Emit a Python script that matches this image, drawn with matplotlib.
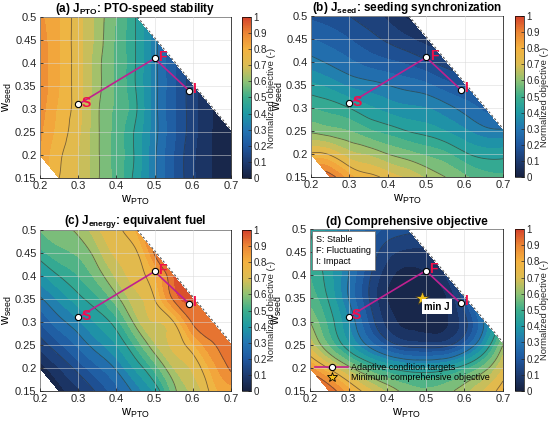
import numpy as np
import matplotlib
matplotlib.use("Agg")
import matplotlib.pyplot as plt
import matplotlib.tri as mtri
from matplotlib.colors import LinearSegmentedColormap, Normalize
from matplotlib.cm import ScalarMappable
from matplotlib.lines import Line2D

plt.rcParams['font.family'] = ['Liberation Sans', 'DejaVu Sans']
plt.rcParams['mathtext.fontset'] = 'custom'
plt.rcParams['mathtext.rm'] = 'Liberation Sans'
plt.rcParams['mathtext.bf'] = 'Liberation Sans:bold'
plt.rcParams['mathtext.it'] = 'Liberation Sans:italic'

nan = np.nan

# grid of weights (columns = w_PTO, rows = w_seed)
w_pto_grid = [0.20, 0.25, 0.30, 0.35, 0.40, 0.45, 0.50, 0.55, 0.60, 0.65, 0.70]
w_seed_grid = [0.15, 0.20, 0.25, 0.30, 0.35, 0.40, 0.45, 0.50]

# normalized objectives (nan = infeasible weights)
J_pto = [
    [nan, 0.75, 0.70, 0.61, 0.53, 0.43, 0.31, 0.20, 0.11, 0.05, 0.02],
    [0.85, 0.76, 0.70, 0.61, 0.53, 0.44, 0.31, 0.20, 0.11, 0.05, 0.02],
    [0.86, 0.78, 0.71, 0.61, 0.53, 0.44, 0.32, 0.21, 0.12, 0.05, 0.02],
    [0.88, 0.79, 0.72, 0.61, 0.54, 0.46, 0.32, 0.21, 0.12, 0.05, nan],
    [0.89, 0.80, 0.72, 0.62, 0.54, 0.45, 0.32, 0.21, 0.12, nan, nan],
    [0.89, 0.80, 0.72, 0.62, 0.54, 0.45, 0.32, 0.21, nan, nan, nan],
    [0.88, 0.80, 0.72, 0.63, 0.54, 0.45, 0.32, nan, nan, nan, nan],
    [0.86, 0.80, 0.72, 0.63, 0.55, 0.45, nan, nan, nan, nan, nan],
]
J_seed = [
    [nan, 0.93, 0.82, 0.77, 0.73, 0.69, 0.64, 0.60, 0.56, 0.52, 0.51],
    [0.76, 0.74, 0.67, 0.64, 0.60, 0.57, 0.54, 0.51, 0.46, 0.43, 0.43],
    [0.59, 0.57, 0.55, 0.51, 0.48, 0.45, 0.43, 0.40, 0.36, 0.32, 0.31],
    [0.50, 0.48, 0.45, 0.41, 0.38, 0.36, 0.35, 0.32, 0.28, 0.24, nan],
    [0.41, 0.38, 0.34, 0.32, 0.30, 0.28, 0.26, 0.22, 0.19, nan, nan],
    [0.32, 0.29, 0.26, 0.23, 0.21, 0.19, 0.16, 0.13, nan, nan, nan],
    [0.25, 0.23, 0.20, 0.17, 0.14, 0.11, 0.08, nan, nan, nan, nan],
    [0.19, 0.17, 0.15, 0.12, 0.09, 0.04, nan, nan, nan, nan, nan],
]
J_energy = [
    [nan, 0.03, 0.09, 0.16, 0.23, 0.32, 0.41, 0.58, 0.66, 0.77, 0.82],
    [0.02, 0.10, 0.17, 0.24, 0.31, 0.41, 0.52, 0.65, 0.71, 0.82, 0.91],
    [0.12, 0.19, 0.26, 0.33, 0.40, 0.51, 0.64, 0.71, 0.79, 0.89, 0.93],
    [0.20, 0.28, 0.34, 0.41, 0.48, 0.62, 0.70, 0.75, 0.91, 0.93, nan],
    [0.29, 0.36, 0.43, 0.49, 0.58, 0.68, 0.75, 0.91, 0.95, nan, nan],
    [0.38, 0.45, 0.50, 0.57, 0.66, 0.72, 0.80, 0.95, nan, nan, nan],
    [0.48, 0.53, 0.56, 0.63, 0.71, 0.74, 0.91, nan, nan, nan, nan],
    [0.55, 0.59, 0.61, 0.69, 0.74, 0.80, nan, nan, nan, nan, nan],
]
J_comp = [
    [nan, 0.95, 0.82, 0.72, 0.64, 0.58, 0.56, 0.58, 0.63, 0.70, 0.78],
    [0.86, 0.74, 0.62, 0.52, 0.45, 0.41, 0.40, 0.42, 0.48, 0.57, 0.70],
    [0.68, 0.54, 0.41, 0.29, 0.19, 0.13, 0.12, 0.13, 0.22, 0.38, 0.60],
    [0.60, 0.48, 0.35, 0.20, 0.08, 0.04, 0.03, 0.04, 0.13, 0.30, nan],
    [0.53, 0.44, 0.30, 0.16, 0.05, 0.02, 0.01, 0.04, 0.19, nan, nan],
    [0.50, 0.42, 0.30, 0.17, 0.07, 0.03, 0.04, 0.10, nan, nan, nan],
    [0.47, 0.40, 0.30, 0.20, 0.12, 0.09, 0.09, nan, nan, nan, nan],
    [0.45, 0.38, 0.30, 0.24, 0.19, 0.17, nan, nan, nan, nan, nan],
]

# adaptive condition targets
cond_names = ['S', 'F', 'I']
cond_pto = [0.30, 0.50, 0.59]
cond_seed = [0.31, 0.41, 0.34]
min_pto, min_seed = 0.49, 0.35
w_sum_max = 0.955

titles = [r'(a) $\mathbf{J}_{\mathbf{PTO}}$: PTO-speed stability',
          r'(b) $\mathbf{J}_{\mathbf{seed}}$: seeding synchronization',
          r'(c) $\mathbf{J}_{\mathbf{energy}}$: equivalent fuel',
          '(d) Comprehensive objective']
fields = [J_pto, J_seed, J_energy, J_comp]

cmap = LinearSegmentedColormap.from_list('obj', [
    (0.00, '#17213f'), (0.10, '#1d3b70'), (0.20, '#1f58a0'), (0.30, '#2376b2'),
    (0.40, '#1e9aa4'), (0.50, '#3cae8c'), (0.60, '#8ec274'), (0.70, '#dcbd52'),
    (0.80, '#f4b23f'), (0.90, '#ec8634'), (1.00, '#d4412a')])

path_color = '#c0208f'
label_color = '#f0104a'

fig = plt.figure(figsize=(5.5, 4.24), dpi=100)
ax_pos = [[0.0727, 0.5802, 0.3473, 0.3797], [0.5655, 0.5825, 0.3491, 0.3797],
          [0.0727, 0.0778, 0.3473, 0.3797], [0.5636, 0.0778, 0.3509, 0.3820]]
cb_left = [0.4400, 0.9370, 0.4400, 0.9370]

# build a triangulation of the feasible grid nodes
gx, gy = np.meshgrid(w_pto_grid, w_seed_grid)
nx, ny = len(w_pto_grid), len(w_seed_grid)
feas = ~np.isnan(np.array(J_pto))
idx = np.arange(nx * ny).reshape(ny, nx)
tris = []
for j in range(ny - 1):
    for i in range(nx - 1):
        ll, lr, ul, ur = idx[j, i], idx[j, i + 1], idx[j + 1, i], idx[j + 1, i + 1]
        for t in [(ll, lr, ul), (lr, ur, ul)]:
            if all(feas.ravel()[k] for k in t):
                tris.append(t)
tris = np.array(tris)
used = np.unique(tris)
remap = -np.ones(nx * ny, dtype=int)
remap[used] = np.arange(len(used))
tri = mtri.Triangulation(gx.ravel()[used], gy.ravel()[used], remap[tris])
refiner = mtri.UniformTriRefiner(tri)

for k in range(4):
    ax = fig.add_axes(ax_pos[k])
    z = np.array(fields[k]).ravel()[used]
    tri_f, z_f = refiner.refine_field(z, subdiv=4)
    z_f = np.clip(z_f, 0, 1)
    ax.tricontourf(tri_f, z_f, levels=np.linspace(0, 1, 21), cmap=cmap, vmin=0, vmax=1, zorder=1)
    ax.tricontour(tri_f, z_f, levels=[0.15, 0.3, 0.45, 0.6, 0.75, 0.9],
                  colors='#333333', linewidths=0.6, alpha=0.65, zorder=2)

    xs = np.array([w_sum_max - 0.5, 0.7])
    ax.plot(xs, w_sum_max - xs, color='#555555', ls=(0, (2, 2)), lw=0.8, zorder=3)

    ax.plot(cond_pto, cond_seed, color=path_color, lw=1.2, marker='o', ms=4.5,
            mfc='white', mec='black', mew=0.8, zorder=5)
    for name, px, py in zip(cond_names, cond_pto, cond_seed):
        ax.text(px + 0.009, py + 0.004, name, color=label_color, fontsize=10,
                fontweight='bold', va='center', ha='left', zorder=6)

    ax.set_xlim(0.2, 0.7)
    ax.set_ylim(0.15, 0.5)
    ax.set_xticks([0.2, 0.3, 0.4, 0.5, 0.6, 0.7])
    ax.set_xticklabels(['0.2', '0.3', '0.4', '0.5', '0.6', '0.7'])
    ax.set_yticks([0.15, 0.2, 0.25, 0.3, 0.35, 0.4, 0.45, 0.5])
    ax.set_yticklabels(['0.15', '0.2', '0.25', '0.3', '0.35', '0.4', '0.45', '0.5'])
    ax.tick_params(labelsize=8, direction='in', length=2.5, width=0.6, colors='#262626', pad=2.5)
    ax.set_axisbelow(False)
    ax.grid(True, color='#d9d9d9', alpha=0.6, lw=0.6, zorder=4)
    for sp in ax.spines.values():
        sp.set_linewidth(0.6)
        sp.set_color('#262626')
    ax.set_xlabel(r'$\mathrm{w}_{\mathrm{PTO}}$', fontsize=9, labelpad=2)
    ax.set_ylabel(r'$\mathrm{w}_{\mathrm{seed}}$', fontsize=9, labelpad=1)
    ax.set_title(titles[k], fontsize=8.5, fontweight='bold', pad=3)

    if k == 3:
        ax.plot(min_pto, min_seed, marker='*', ms=10, mfc='#f2c21b', mec='#333333',
                mew=0.6, ls='none', zorder=7)
        ax.text(min_pto + 0.006, min_seed - 0.018, 'min J', fontsize=7, fontweight='bold',
                va='center', ha='left', zorder=7,
                bbox=dict(boxstyle='square,pad=0.25', fc='white', ec='none'))
        ax.text(0.03, 0.965, 'S: Stable\nF: Fluctuating\nI: Impact', transform=ax.transAxes,
                fontsize=6.5, va='top', ha='left', linespacing=1.3, zorder=8,
                bbox=dict(boxstyle='square,pad=0.45', fc='white', ec='#777777', lw=0.6))
        handles = [Line2D([], [], color=path_color, lw=1.2, marker='o', ms=4.5,
                          mfc='white', mec='black', mew=0.8),
                   Line2D([], [], ls='none', marker='*', ms=7, mfc='#f2c21b',
                          mec='black', mew=0.6)]
        ax.legend(handles, ['Adaptive condition targets', 'Minimum comprehensive objective'],
                  loc='lower left', bbox_to_anchor=(0.0, 0.02), frameon=False, fontsize=6.5,
                  handlelength=3.6, handletextpad=0.3, labelspacing=0.15, borderaxespad=0.2)

    cax = fig.add_axes([cb_left[k], ax_pos[k][1], 0.0165, ax_pos[k][3]])
    cb = fig.colorbar(ScalarMappable(norm=Normalize(0, 1), cmap=cmap), cax=cax,
                      ticks=np.linspace(0, 1, 11))
    cb.ax.set_yticklabels(['0', '0.1', '0.2', '0.3', '0.4', '0.5', '0.6', '0.7', '0.8', '0.9', '1'])
    cb.ax.tick_params(labelsize=7, direction='in', length=2, width=0.5, colors='#262626', pad=1.5)
    cb.outline.set_linewidth(0.5)
    cb.set_label('Normalized objective (-)', fontsize=6.8, labelpad=0, color='#262626')

fig.savefig('out.png', dpi=100)
